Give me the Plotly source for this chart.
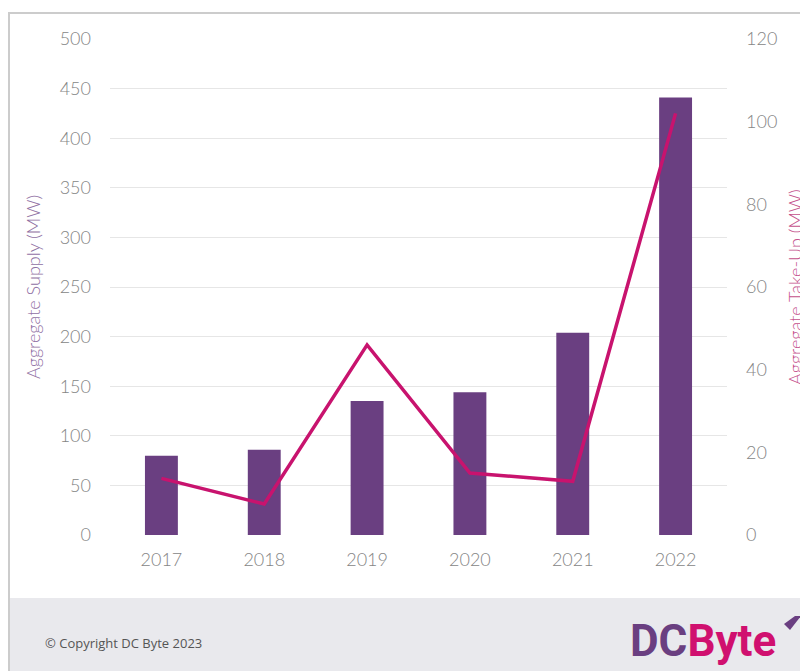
import plotly.graph_objects as go

years = ["2017", "2018", "2019", "2020", "2021", "2022"]
supply_mw = [80, 86, 135, 144, 204, 441]
takeup_mw = [13.7, 7.5, 46, 15, 13, 102]

left_ticks = list(range(0, 501, 50))
right_ticks = list(range(0, 121, 20))

BAR = "#6A3F81"
LINE = "#C8136E"
TICK = "#858585"
FONT = "Lato, 'Open Sans', sans-serif"

W, H = 800, 671
L, R, T, B = 110, 727, 39, 535

def px_x(x):
    return (x - L) / (R - L)

def px_y(y):
    return (B - y) / (B - T)

fig = go.Figure()
fig.add_trace(go.Bar(x=years, y=supply_mw, marker=dict(color=BAR, line=dict(width=0)),
                     name="Aggregate Supply", yaxis="y"))
fig.add_trace(go.Scatter(x=years, y=takeup_mw, mode="lines", line=dict(color=LINE, width=3.5),
                         name="Aggregate Take-Up", yaxis="y2"))

tickfont = dict(size=18, color=TICK, family=FONT, weight=300)

fig.update_layout(
    width=W, height=H,
    margin=dict(l=L, r=W - R, t=T, b=H - B),
    paper_bgcolor="white", plot_bgcolor="white",
    showlegend=False,
    bargap=0.68,
    font=dict(family=FONT, color=TICK),
    xaxis=dict(showgrid=False, showline=False, ticks="", tickfont=tickfont,
               ticklabelstandoff=12),
    yaxis=dict(range=[0, 500], tickvals=left_ticks, showgrid=True, gridcolor="#E6E6E6",
               gridwidth=1, zeroline=False, showline=False, ticks="",
               tickfont=tickfont, ticklabelstandoff=18),
    yaxis2=dict(range=[0, 120], tickvals=right_ticks, overlaying="y", side="right",
                showgrid=False, zeroline=False, showline=False, ticks="",
                tickfont=tickfont, ticklabelstandoff=18),
)

shapes = [
    # footer band
    dict(type="rect", xref="paper", yref="paper", x0=px_x(8), x1=px_x(810),
         y0=px_y(680), y1=px_y(598), fillcolor="#E9E9ED", line=dict(width=0), layer="below"),
    # frame lines
    dict(type="line", xref="paper", yref="paper", x0=px_x(8), x1=px_x(810),
         y0=px_y(13), y1=px_y(13), line=dict(color="#CCCCCC", width=2)),
    dict(type="line", xref="paper", yref="paper", x0=px_x(9), x1=px_x(9),
         y0=px_y(13), y1=px_y(680), line=dict(color="#CCCCCC", width=2)),
    # logo swoosh
    dict(type="path", xref="paper", yref="paper",
         path="M {} {} L {} {} L {} {} L {} {} Z".format(
             px_x(784), px_y(624), px_x(795), px_y(616), px_x(801), px_y(616), px_x(790), px_y(630)),
         fillcolor="#6A3F81", line=dict(width=0)),
]
fig.update_layout(shapes=shapes)

annotations = [
    dict(text="Aggregate Supply (MW)", xref="paper", yref="paper", x=px_x(33), y=0.5,
         textangle=-90, showarrow=False,
         font=dict(size=18, color="#8F6FA3", family=FONT, weight=300),
         xanchor="center", yanchor="middle"),
    dict(text="Aggregate Take-Up (MW)", xref="paper", yref="paper", x=px_x(795), y=0.5,
         textangle=-90, showarrow=False,
         font=dict(size=18, color="#C4508C", family=FONT, weight=300),
         xanchor="center", yanchor="middle"),
    dict(text="© Copyright DC Byte 2023", xref="paper", yref="paper", x=px_x(43), y=px_y(643),
         showarrow=False, xanchor="left", yanchor="middle",
         font=dict(size=13, color="#555555",
                   family="'Liberation Sans Narrow', 'Open Sans', sans-serif")),
    dict(text="<b><span style='color:#6A3F81'>DC</span><span style='color:#D0106F'>Byte</span></b>",
         xref="paper", yref="paper", x=px_x(628), y=px_y(641), showarrow=False,
         xanchor="left", yanchor="middle",
         font=dict(size=44, family="Roboto, 'Open Sans', sans-serif", weight=900)),
]
fig.update_layout(annotations=annotations)

fig.write_html(
    "out.html",
    config={"displayModeBar": False},
    post_script="document.body.style.margin='0px';document.body.style.overflow='hidden';",
)
